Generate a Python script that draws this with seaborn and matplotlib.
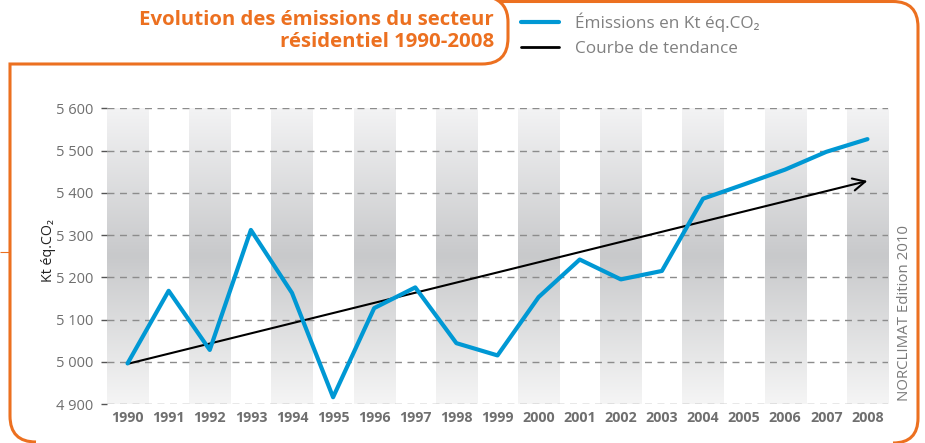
import numpy as np
import pandas as pd
import matplotlib
matplotlib.use("Agg")
import matplotlib.pyplot as plt
import seaborn as sns
from matplotlib.path import Path
from matplotlib.patches import PathPatch
from matplotlib.lines import Line2D
from matplotlib.colors import LinearSegmentedColormap
import matplotlib.transforms as mtransforms

# ---- data ----
years = list(range(1990, 2009))
emissions = [4996, 5168, 5028, 5312, 5163, 4916, 5127, 5176, 5044, 5015,
             5153, 5242, 5195, 5215, 5386, 5420, 5455, 5497, 5527]
trend_years = [1990, 2008]
trend_values = [4995, 5428]
y_ticks = [4900, 5000, 5100, 5200, 5300, 5400, 5500, 5600]
y_tick_labels = ["4 900", "5 000", "5 100", "5 200", "5 300", "5 400", "5 500", "5 600"]

title = "Evolution des émissions du secteur\nrésidentiel 1990-2008"
series_label = "Émissions en Kt éq.CO₂"
trend_label = "Courbe de tendance"
y_label = "Kt éq.CO₂"
source = "NORCLIMAT Edition 2010"

# ---- style ----
sns.set_theme(style="white")
FONT = ["Open Sans", "DejaVu Sans"]
plt.rcParams["font.family"] = FONT

BLUE = "#0098D4"
ORANGE = "#EC7020"
GRAY_TXT = "#6f6f6f"

W, H = 925, 443
fig = plt.figure(figsize=(W / 100, H / 100), dpi=100)
ax = fig.add_axes([107 / W, 1 - 404 / H, (888 - 107) / W, (404 - 108.3) / H])

df = pd.DataFrame({"year": years, "emissions": emissions})

# gradient bands for alternate years
cmap = LinearSegmentedColormap.from_list(
    "band", [(0.0, "#f3f3f4"), (0.5, "#c8c9cb"), (1.0, "#f5f5f5")])
grad = np.linspace(0, 1, 256).reshape(-1, 1)
for i, yr in enumerate(years):
    if i % 2 == 0:
        ax.imshow(grad, cmap=cmap, aspect="auto",
                  extent=[yr - 0.5, yr + 0.5, y_ticks[0], y_ticks[-1]],
                  origin="upper", zorder=0, interpolation="bilinear")

# gridlines
for v in y_ticks:
    ax.axhline(v, color="#8c8c8c", lw=1.0, ls=(0, (5, 4)), zorder=1)

# trend arrow
ax.annotate("", xy=(trend_years[1], trend_values[1]),
            xytext=(trend_years[0], trend_values[0]),
            arrowprops=dict(arrowstyle="->", color="black", lw=1.5,
                            mutation_scale=22, shrinkA=0, shrinkB=0),
            zorder=3)

sns.lineplot(data=df, x="year", y="emissions", ax=ax, color=BLUE, lw=3.0,
             zorder=4, legend=False)

ax.set_xlim(years[0] - 0.5, years[-1] + 0.5)
ax.set_ylim(y_ticks[0], y_ticks[-1])
ax.set_yticks(y_ticks)
ax.set_yticklabels(y_tick_labels, color=GRAY_TXT, fontsize=10.5)
ax.set_xticks(years)
ax.set_xticklabels([str(y) for y in years], color=GRAY_TXT, fontsize=10.3,
                   fontweight="bold")
ax.set_xticks([y - 0.5 for y in years] + [years[-1] + 0.5], minor=True)
ax.tick_params(axis="x", which="major", length=0, pad=5)
ax.tick_params(axis="x", which="minor", length=3, width=1, color="#444444",
               direction="out")
ax.tick_params(axis="y", length=4, width=1, color="#555555", pad=6, left=True)
ax.set_xlabel("")
ax.set_ylabel("")
for s in ax.spines.values():
    s.set_visible(False)

# y label and source
fig.text(48 / W, 1 - 251 / H, y_label, rotation=90, ha="center", va="center",
         fontsize=10.3, color="#222222", family=FONT)
fig.text(905 / W, 1 - 313 / H, source, rotation=90, ha="center", va="center",
         fontsize=10.8, color="#7a7a7a", family=FONT)

# title
fig.text(494 / W, 1 - 31 / H, title, ha="right", va="center", fontsize=14.7,
         fontweight="bold", color=ORANGE, linespacing=1.13, family=FONT)

# legend
h1 = Line2D([], [], color=BLUE, lw=3.0)
h2 = Line2D([], [], color="black", lw=2.0)
fig.legend([h1, h2], [series_label, trend_label], loc="upper left",
           bbox_to_anchor=(521 / W, 1 - 12 / H), frameon=False,
           handlelength=2.2, handletextpad=0.95, labelspacing=0.55,
           borderpad=0, borderaxespad=0, prop={"size": 12.3, "family": FONT},
           labelcolor="#808080")

# orange frame (pixel coordinates, y down)
pix = mtransforms.Affine2D().scale(1 / W, -1 / H).translate(0, 1) + fig.transFigure
M, L, C = Path.MOVETO, Path.LINETO, Path.CURVE3
verts1 = [(36, 442), (10, 442), (10, 416), (10, 64), (482, 64),
          (508, 64), (508, 38), (508, 22), (508, 2), (490, -3)]
codes1 = [M, C, C, L, L, C, C, L, C, C]
verts2 = [(500, 1.5), (893, 1.5), (918, 1.5), (918, 27), (918, 418),
          (918, 443), (893, 443)]
codes2 = [M, L, C, C, L, C, C]
for v, c in [(verts1, codes1), (verts2, codes2)]:
    fig.patches.append(PathPatch(Path(v, c), fill=False, edgecolor=ORANGE,
                                 lw=2.2, transform=pix, figure=fig))
fig.patches.append(PathPatch(Path([(0, 252), (10, 252)], [M, L]), fill=False,
                             edgecolor=ORANGE, lw=0.8, transform=pix, figure=fig))

fig.savefig("out.png", dpi=100)
